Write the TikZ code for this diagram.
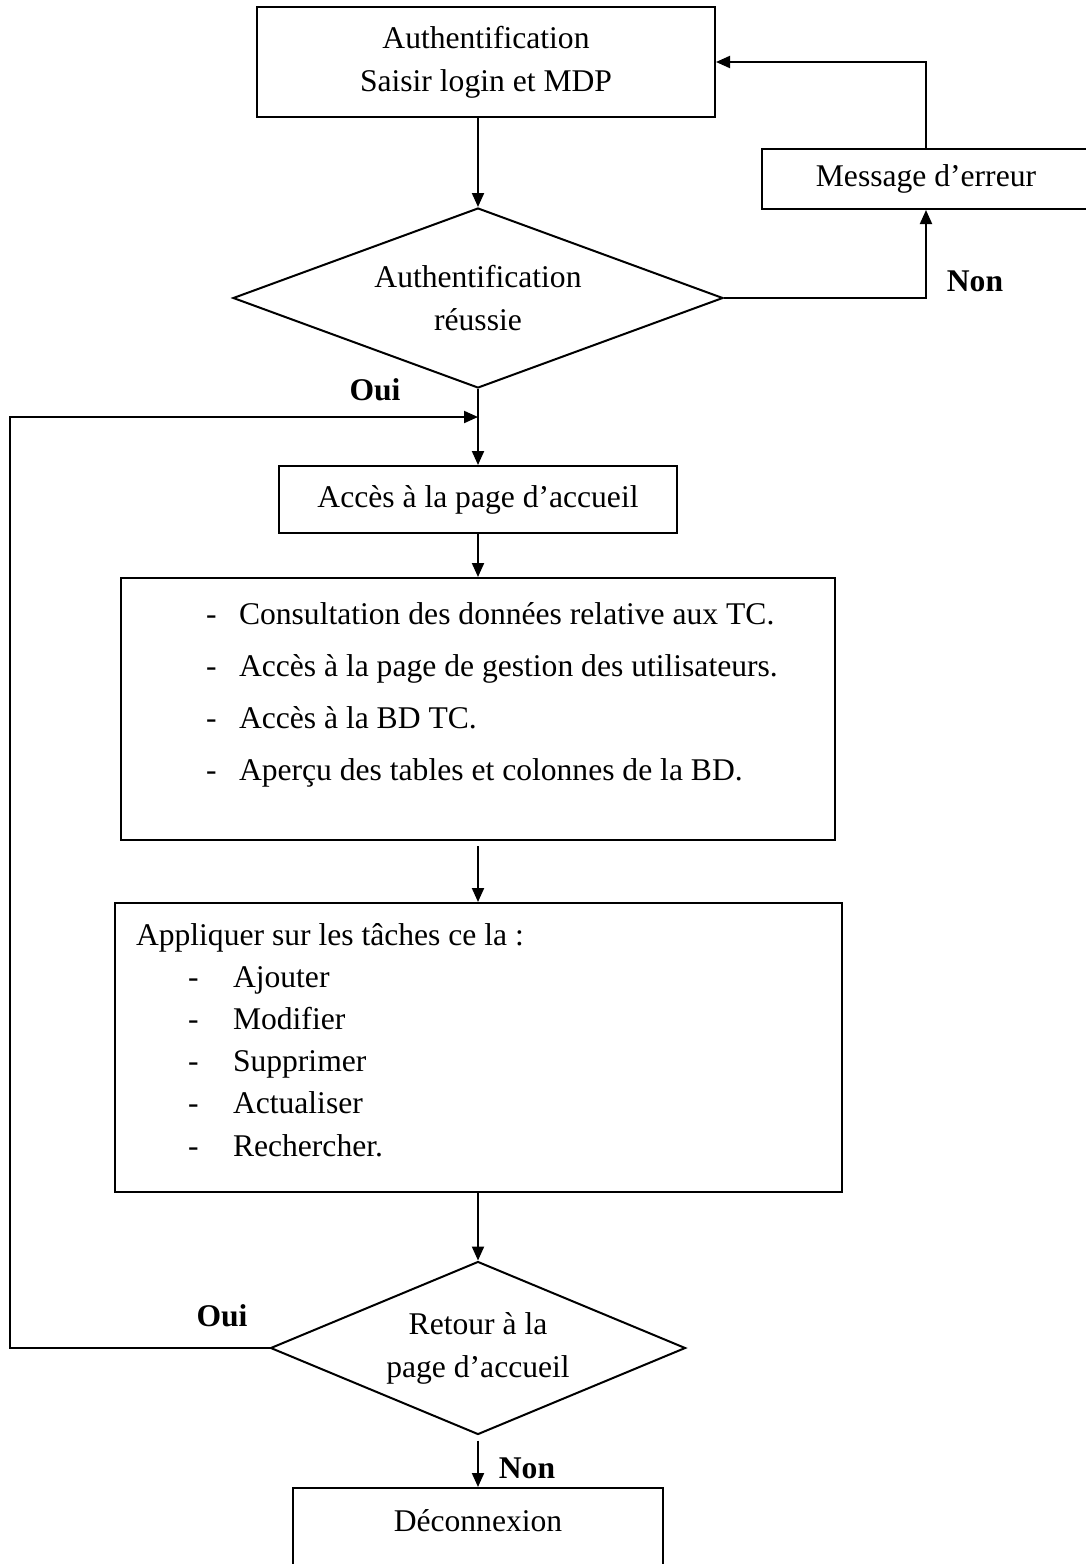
\documentclass[tikz,border=0pt]{standalone}
\usepackage{fontspec}
\setmainfont{Liberation Serif}
\usetikzlibrary{shapes.geometric,arrows.meta}
\newcommand{\chartfont}{\fontsize{15.8}{21.5}\selectfont}
\tikzset{every picture/.style={line width=1pt}}
\tikzset{
  procbox/.style={draw, rectangle, inner sep=0pt, align=center},
  decision/.style={draw, diamond, inner sep=0pt, align=center},
  flow/.style={-{Triangle[length=7pt,width=6pt]}},
  answer/.style={font=\chartfont\bfseries, inner sep=0pt},
  listline/.style={anchor=base west, inner sep=0pt},
}

\begin{document}
\begin{tikzpicture}[x=0.5pt,y=0.5pt,yscale=-1,xscale=1,font=\chartfont]
    \useasboundingbox (0,0) rectangle (1086,1564);
    % boxes and decisions
    \node [procbox, minimum width=229pt, minimum height=55pt] (auth) at (486,62) {Authentification\\Saisir login et MDP};
    \node [decision, aspect=2.72, minimum width=245pt, minimum height=90pt] (check) at (478,298) {Authentification\\r\'eussie};
    \node [procbox, minimum width=164pt, minimum height=30pt] (err) at (926,179) {Message d'erreur};
    \node [procbox, minimum width=199pt, minimum height=33.5pt] (home) at (478,499.5) {Acc\`es \`a la page d'accueil};
    \node [procbox, minimum width=357pt, minimum height=131pt] (menu) at (478,709) {};
    \node [procbox, minimum width=363.5pt, minimum height=144.5pt] (tasks) at (478,1047.5) {};
    \node [decision, aspect=2.4, minimum width=207.5pt, minimum height=86.5pt] (back) at (478,1348) {Retour \`a la\\page d'accueil};
    \node [procbox, minimum width=185pt, minimum height=55pt] (logout) at (478,1543) {};
    \node (logouttext) at (478,1521) {D\'econnexion};
    % list of the menu
    \foreach \txt [count=\i] in {Consultation des donn\'ees relative aux TC.,
        Acc\`es \`a la page de gestion des utilisateurs.,
        Acc\`es \`a la BD TC.,
        Aper\c{c}u des tables et colonnes de la BD.}
    {
        \node [listline] (mdash\i) at (205,572+52*\i) {-};
        \node [listline] (mitem\i) at (238,572+52*\i) {\txt};
    }
    % list of the tasks
    \node [listline] (tasktitle) at (135,945) {Appliquer sur les t\^aches ce la :};
    \foreach \txt [count=\i] in {Ajouter, Modifier, Supprimer, Actualiser, Rechercher.}
    {
        \node [listline] (tdash\i) at (187,945+42.2*\i) {-};
        \node [listline] (titem\i) at (232,945+42.2*\i) {\txt};
    }
    % answers
    \node [answer] (non1) at (975,281) {Non};
    \node [answer] (oui1) at (375,390) {Oui};
    \node [answer] (oui2) at (222,1316) {Oui};
    \node [answer] (non2) at (527,1468) {Non};
    % connectors
    \coordinate (merge) at (478,417);
    \coordinate (loopcorner) at (10,1348);
    \draw [flow] (auth.south -| check.north) -- (check.north);
    \draw [flow] (check.east) -| (err.south);
    \draw [flow] (err.north) |- (auth.east);
    \draw [flow] (check.south) -- (home.north);
    \draw [flow] (back.west) -- (loopcorner) |- (merge);
    \draw [flow] (home.south) -- (menu.north);
    \draw [flow, shorten <=2.5pt] (menu.south) -- (tasks.north);
    \draw [flow] (tasks.south) -- (back.north);
    \draw [flow, shorten <=2.5pt] (back.south) -- (logout.north);
\end{tikzpicture}
\end{document}
